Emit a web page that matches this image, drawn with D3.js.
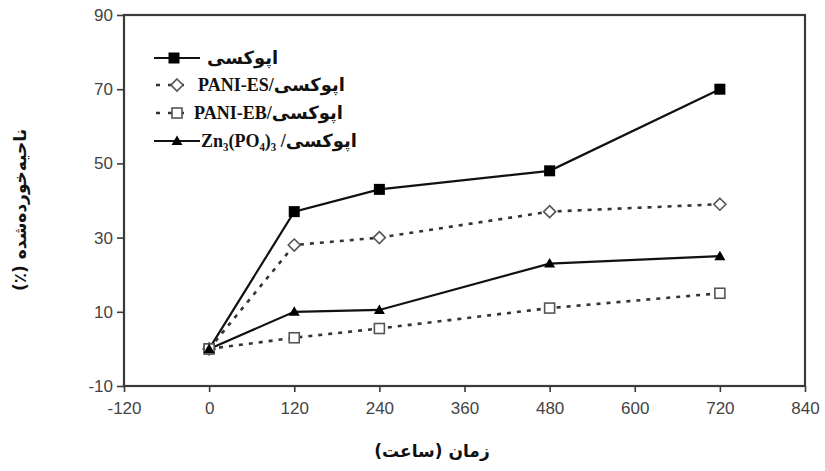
<!DOCTYPE html>
<html><head><meta charset="utf-8">
<script src="https://cdn.jsdelivr.net/npm/d3@7"></script>
<style>body{margin:0;background:#fff}svg{display:block}</style>
</head><body>
<svg id="c" width="825" height="471"></svg>
<script>
const hours = [0, 120, 240, 480, 720];
const epoxy = [0, 37, 43, 48, 70];
const paniES = [0, 28, 30, 37, 39];
const paniEB = [0, 3, 5.5, 11, 15];
const znPO = [0, 10, 10.5, 23, 25];
const xTicks = [-120, 0, 120, 240, 360, 480, 600, 720, 840];
const yTicks = [-10, 10, 30, 50, 70, 90];
const seriesNames = ["اپوکسی", "اپوکسی/PANI-ES", "اپوکسی/PANI-EB", "اپوکسی/ Zn₃(PO₄)₃"];
const xTitle = "زمان (ساعت)";
const yTitle = "ناحیه‌خورده‌شده (٪)";

const series = [
  {name: seriesNames[0], vals: epoxy, dash: null, marker: "fsquare"},
  {name: seriesNames[1], vals: paniES, dash: "4,6", marker: "diamond"},
  {name: seriesNames[2], vals: paniEB, dash: "4,6", marker: "osquare"},
  {name: seriesNames[3], vals: znPO, dash: null, marker: "triangle"}
];

const svg = d3.select("#c");
const L = 124, R = 805, T = 15, B = 386;
const x = d3.scaleLinear().domain([-120, 840]).range([L, R]);
const y = d3.scaleLinear().domain([-10, 90]).range([B, T]);

const axisColor = "#3a3a3a";
const fmt = d => String(d);
const gx = svg.append("g").attr("transform", `translate(0,${B})`)
  .call(d3.axisBottom(x).tickValues(xTicks).tickSize(6).tickPadding(10).tickFormat(fmt));
const gy = svg.append("g").attr("transform", `translate(${L},0)`)
  .call(d3.axisLeft(y).tickValues(yTicks).tickSize(7).tickPadding(4).tickFormat(fmt));
[gx, gy].forEach(g => {
  g.select(".domain").remove();
  g.selectAll(".tick line").attr("stroke", axisColor).attr("stroke-width", 1.6);
  g.selectAll(".tick text").attr("font-family", "Liberation Sans, Arial, sans-serif")
    .attr("font-size", 17).attr("fill", "#444");
});
// frame
svg.append("rect").attr("x", L).attr("y", T).attr("width", R - L).attr("height", B - T)
  .attr("fill", "none").attr("stroke", axisColor).attr("stroke-width", 2.2);

const line = d3.line().x((d, i) => x(hours[i])).y(d => y(d));

function drawMarker(g, type, cx, cy) {
  if (type === "fsquare") {
    g.append("rect").attr("x", cx - 5.5).attr("y", cy - 5.5).attr("width", 11).attr("height", 11).attr("fill", "#000");
  } else if (type === "osquare") {
    g.append("rect").attr("x", cx - 5).attr("y", cy - 5).attr("width", 10).attr("height", 10)
      .attr("fill", "#fff").attr("stroke", "#555").attr("stroke-width", 1.6);
  } else if (type === "diamond") {
    g.append("path").attr("d", `M${cx},${cy-6}L${cx+6},${cy}L${cx},${cy+6}L${cx-6},${cy}Z`)
      .attr("fill", "#fff").attr("stroke", "#555").attr("stroke-width", 1.6);
  } else if (type === "triangle") {
    g.append("path").attr("d", `M${cx},${cy-5.5}L${cx+5.5},${cy+4}L${cx-5.5},${cy+4}Z`).attr("fill", "#000");
  }
}

const plot = svg.append("g");
series.forEach(s => {
  plot.append("path").datum(s.vals).attr("d", line).attr("fill", "none")
    .attr("stroke", s.dash ? "#333" : "#111").attr("stroke-width", s.dash ? 2.6 : 2.2)
    .attr("stroke-dasharray", s.dash);
});
series.forEach(s => {
  s.vals.forEach((v, i) => drawMarker(plot, s.marker, x(hours[i]), y(v)));
});

// legend
const legY = [58, 85, 113, 141];
const leg = svg.append("g");
series.forEach((s, i) => {
  const ly = legY[i];
  if (s.dash) {
    leg.append("line").attr("x1", 156).attr("x2", 191).attr("y1", ly).attr("y2", ly)
      .attr("stroke", "#333").attr("stroke-width", 2.6).attr("stroke-dasharray", "4,8");
  } else {
    leg.append("line").attr("x1", 154).attr("x2", 200).attr("y1", ly).attr("y2", ly)
      .attr("stroke", "#111").attr("stroke-width", 2.2);
  }
  drawMarker(leg, s.marker, i === 0 ? 174 : 177, ly);
  leg.append("text").attr("x", [207, 198, 194, 201][i]).attr("y", ly + 6)
    .attr("direction", "rtl").attr("text-anchor", "end")
    .attr("font-family", "Liberation Serif, DejaVu Sans, serif").attr("font-weight", "bold")
    .attr("font-size", 18).attr("fill", "#111").text(s.name);
});

// axis titles
svg.append("text").attr("x", 432).attr("y", 457).attr("text-anchor", "middle")
  .attr("direction", "rtl")
  .attr("font-family", "DejaVu Sans, sans-serif").attr("font-weight", "bold")
  .attr("font-size", 17).attr("fill", "#111").text(xTitle);
svg.append("text").attr("transform", "translate(26,210) rotate(-90)").attr("text-anchor", "middle")
  .attr("direction", "rtl")
  .attr("font-family", "DejaVu Sans, sans-serif").attr("font-weight", "bold")
  .attr("font-size", 17).attr("fill", "#111").text(yTitle);
</script>
</body></html>
